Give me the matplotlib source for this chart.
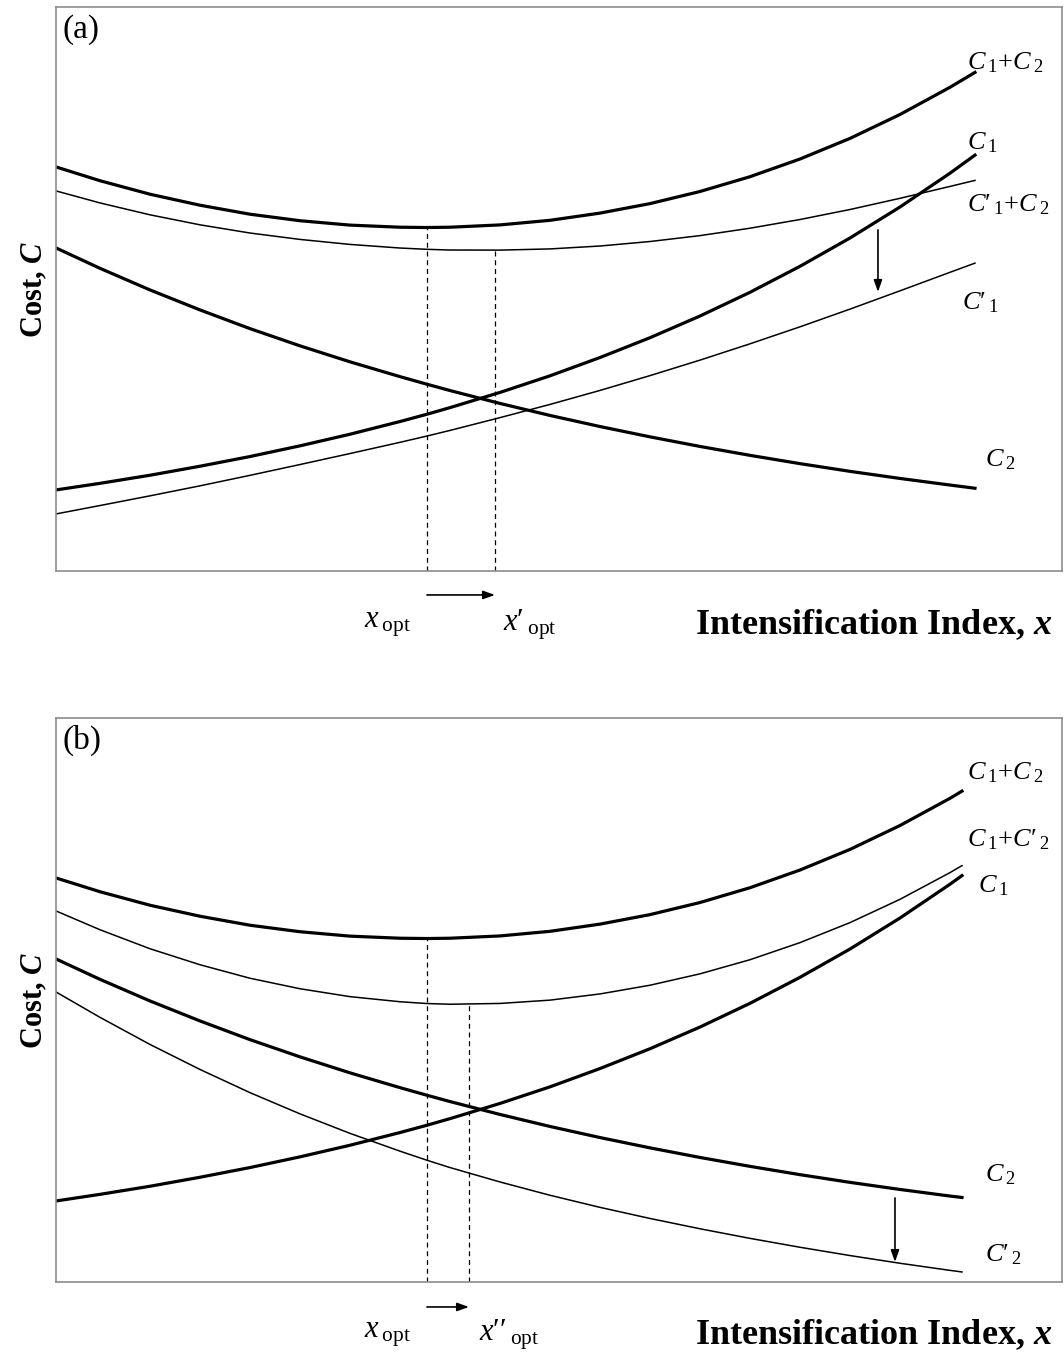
# cost curves vs intensification index, two panels (a) and (b)
import matplotlib
matplotlib.use('Agg')
import matplotlib.pyplot as plt

plt.rcParams['font.family'] = ['Liberation Serif', 'DejaVu Serif']
plt.rcParams['mathtext.fontset'] = 'custom'
plt.rcParams['mathtext.rm'] = 'Liberation Serif'
plt.rcParams['mathtext.it'] = 'Liberation Serif:italic'
plt.rcParams['mathtext.bf'] = 'Liberation Serif:bold'
plt.rcParams['mathtext.bfit'] = 'Liberation Serif:italic:bold'

# ---- data (x: index position, y: cost, arbitrary units) ----
x_a = [0, 44, 94, 144, 194, 244, 294, 344, 371, 394, 444, 494, 544, 594, 644, 694, 744, 794, 844, 894, 919]
x_b = [0, 44, 94, 144, 194, 244, 294, 344, 371, 394, 444, 494, 544, 594, 644, 694, 744, 794, 844, 894, 906]

c1_a = [81, 87.6, 95.7, 104.7, 114.4, 125.1, 136.7, 149.4, 156.7, 163.3, 178.5, 195.1, 213.4, 233.2, 254.9,
        278.6, 304.6, 332.9, 363.9, 397.7, 415.8]
c2_a = [323, 302.6, 281.0, 261.0, 242.3, 225.1, 209.1, 194.3, 186.7, 180.4, 167.5, 155.5, 144.4, 134.1, 124.5,
        115.6, 107.3, 99.6, 92.5, 85.9, 82.7]
c1c2_a = [404, 390.2, 376.7, 365.7, 356.7, 350.2, 345.8, 343.7, 343.4, 343.7, 346.0, 350.6, 357.8, 367.3, 379.4,
          394.2, 411.9, 432.5, 456.4, 483.6, 498.5]
c1p_a = [57, 65.4, 75.1, 85.1, 95.6, 106.4, 117.4, 128.6, 134.9, 140.5, 153.3, 166.5, 180.5, 195.3, 210.8,
         227.1, 244.1, 261.8, 280.1, 298.6, 307.8]
c1pc2_a = [380, 368.0, 356.1, 346.1, 337.9, 331.5, 326.5, 322.9, 321.6, 320.9, 320.8, 322.0, 324.9, 329.4, 335.3,
           342.7, 351.4, 361.4, 372.6, 384.5, 390.5]

c1_b = [81, 87.6, 95.7, 104.7, 114.4, 125.1, 136.7, 149.4, 156.7, 163.3, 178.5, 195.1, 213.4, 233.2, 254.9,
        278.6, 304.6, 332.9, 363.9, 397.7, 406.3]
c2_b = [323, 302.6, 281.0, 261.0, 242.3, 225.1, 209.1, 194.3, 186.7, 180.4, 167.5, 155.5, 144.4, 134.1, 124.5,
        115.6, 107.3, 99.6, 92.5, 85.9, 84.5]
c1c2_b = [404, 390.2, 376.7, 365.7, 356.7, 350.2, 345.8, 343.7, 343.4, 343.7, 346.0, 350.6, 357.8, 367.3, 379.4,
          394.2, 411.9, 432.5, 456.4, 483.6, 490.8]
c2p_b = [290, 264.6, 237.5, 212.5, 189.3, 168.1, 148.6, 130.8, 121.7, 114.4, 100.0, 86.7, 74.6, 63.5, 53.2,
         43.6, 34.7, 26.4, 18.7, 11.6, 10.0]
c1c2p_b = [371, 352.2, 333.2, 317.2, 303.7, 293.2, 285.3, 280.2, 278.4, 277.7, 278.5, 281.8, 288.0, 296.7, 308.1,
           322.2, 339.3, 359.3, 382.6, 409.3, 416.3]

# optimum positions and the cost at each optimum
xopt_a, copt_a = 371, 343.4
xopt1_a, copt1_a = 439, 320.8
xopt_b, copt_b = 371, 343.4
xopt2_b, copt2_b = 413, 277.7

THICK = 2.3
THIN = 1.1
FRAME = '#8c8c8c'

fig = plt.figure(figsize=(10.64, 13.52), dpi=100)
ax_a = fig.add_axes([0.0526, 0.5777, 0.9455, 0.4172])
ax_b = fig.add_axes([0.0526, 0.0518, 0.9455, 0.4172])

for ax in (ax_a, ax_b):
    ax.set_xlim(0, 1006)
    ax.set_ylim(0, 564)
    ax.set_xticks([])
    ax.set_yticks([])
    for sp in ax.spines.values():
        sp.set_color(FRAME)
        sp.set_linewidth(1.2)
    ax.set_ylabel(r'Cost, $\mathbfit{C}$', fontsize=22, fontweight='bold', labelpad=5)


def arrow(ax, x0, y0, x1, y1):
    ax.annotate('', xy=(x1, y1), xytext=(x0, y0), annotation_clip=False,
                arrowprops=dict(arrowstyle='-|>,head_length=0.7,head_width=0.25',
                                color='black', lw=1.2, shrinkA=0, shrinkB=0))


lab = dict(fontsize=19, ha='left', va='center')
xlab = dict(fontsize=22, ha='center', va='center', clip_on=False)
c1 = r"$C\,{}_{1}$"
c2 = r"$C\,{}_{2}$"
c1p = r"$C\prime\,{}_{1}$"
c2p = r"$C\prime\,{}_{2}$"

# ---- panel (a) ----
ax_a.plot(x_a, c1c2_a, color='black', lw=THICK)
ax_a.plot(x_a, c1_a, color='black', lw=THICK)
ax_a.plot(x_a, c2_a, color='black', lw=THICK)
ax_a.plot(x_a, c1pc2_a, color='black', lw=THIN)
ax_a.plot(x_a, c1p_a, color='black', lw=THIN)
ax_a.plot([xopt_a, xopt_a], [0, copt_a], color='black', lw=0.9, ls=(0, (4, 3)))
ax_a.plot([xopt1_a, xopt1_a], [0, copt1_a], color='black', lw=0.9, ls=(0, (4, 3)))
arrow(ax_a, 822, 341, 822, 279)
arrow(ax_a, xopt_a, -24, xopt1_a, -24)

ax_a.text(7, 541, '(a)', fontsize=24, ha='left', va='center')
ax_a.text(911, 508, c1 + '+' + c2, **lab)
ax_a.text(911, 428, c1, **lab)
ax_a.text(911, 366, c1p + '+' + c2, **lab)
ax_a.text(906, 268, c1p, **lab)
ax_a.text(929, 111, c2, **lab)

ax_a.text(332, -54, r"$x\,{}_{\mathrm{opt}}$", **xlab)
ax_a.text(474, -54, r"$x\prime\,{}_{\mathrm{opt}}$", **xlab)
ax_a.text(996, -54, r'Intensification Index, $\mathbfit{x}$', fontsize=26,
          fontweight='bold', ha='right', va='center', clip_on=False)

# ---- panel (b) ----
ax_b.plot(x_b, c1c2_b, color='black', lw=THICK)
ax_b.plot(x_b, c1_b, color='black', lw=THICK)
ax_b.plot(x_b, c2_b, color='black', lw=THICK)
ax_b.plot(x_b, c1c2p_b, color='black', lw=THIN)
ax_b.plot(x_b, c2p_b, color='black', lw=THIN)
ax_b.plot([xopt_b, xopt_b], [0, copt_b], color='black', lw=0.9, ls=(0, (4, 3)))
ax_b.plot([xopt2_b, xopt2_b], [0, copt2_b], color='black', lw=0.9, ls=(0, (4, 3)))
arrow(ax_b, 839, 84, 839, 20)
arrow(ax_b, xopt_b, -25, xopt2_b, -25)

ax_b.text(7, 542, '(b)', fontsize=24, ha='left', va='center')
ax_b.text(911, 509, c1 + '+' + c2, **lab)
ax_b.text(911, 442, c1 + '+' + c2p, **lab)
ax_b.text(922, 396, c1, **lab)
ax_b.text(929, 107, c2, **lab)
ax_b.text(929, 27, c2p, **lab)

ax_b.text(332, -53, r"$x\,{}_{\mathrm{opt}}$", **xlab)
ax_b.text(453, -53, r"$x\prime\prime\,{}_{\mathrm{opt}}$", **xlab)
ax_b.text(996, -53, r'Intensification Index, $\mathbfit{x}$', fontsize=26,
          fontweight='bold', ha='right', va='center', clip_on=False)

fig.savefig('out.png', dpi=100)
